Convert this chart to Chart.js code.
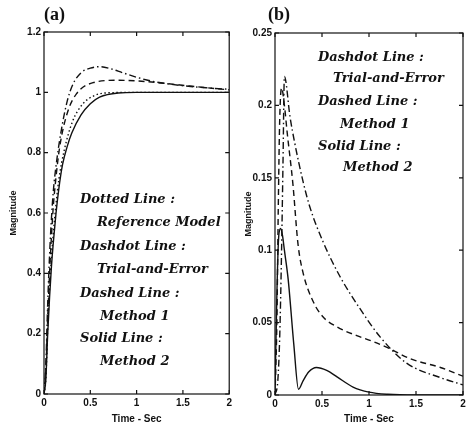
<!DOCTYPE html>
<html>
<head>
<meta charset="utf-8">
<script src="https://cdn.jsdelivr.net/npm/chart.js@4.4.1/dist/chart.umd.min.js"></script>
<style>
  body { margin: 0; background: #fff; }
  canvas { position: absolute; top: 0; }
  #chartA { left: 0; }
  #chartB { left: 235px; }
</style>
</head>
<body>
<canvas id="chartA" width="235" height="425"></canvas>
<canvas id="chartB" width="235" height="425"></canvas>
<script>
// ---- panel (a): step responses ----
const xTicks = [0, 0.5, 1, 1.5, 2];

const aRefT   = [0, 0.02, 0.04, 0.06, 0.08, 0.1, 0.13, 0.16, 0.22, 0.31, 0.42, 0.55, 0.67, 1, 1.5, 2];
const aRefV   = [0, 0.05, 0.22, 0.35, 0.45, 0.53, 0.63, 0.71, 0.81, 0.905, 0.962, 0.99, 0.998, 1, 1, 1];

const aTrialT = [0, 0.02, 0.04, 0.06, 0.08, 0.1, 0.14, 0.19, 0.25, 0.31, 0.4, 0.5, 0.6, 0.7, 0.85, 1, 1.2, 1.5, 1.75, 2];
const aTrialV = [0, 0.1, 0.3, 0.46, 0.58, 0.67, 0.78, 0.88, 0.97, 1.025, 1.065, 1.08, 1.085, 1.08, 1.065, 1.05, 1.035, 1.022, 1.015, 1.01];

const aM1T    = [0, 0.02, 0.04, 0.06, 0.08, 0.1, 0.13, 0.17, 0.25, 0.35, 0.53, 0.8, 1, 1.3, 1.6, 2];
const aM1V    = [0, 0.08, 0.25, 0.4, 0.52, 0.62, 0.72, 0.82, 0.93, 0.995, 1.032, 1.04, 1.038, 1.03, 1.02, 1.008];

const aM2T    = [0, 0.02, 0.04, 0.06, 0.08, 0.1, 0.13, 0.16, 0.2, 0.25, 0.3, 0.4, 0.5, 0.6, 0.8, 1, 2];
const aM2V    = [0, 0.05, 0.2, 0.32, 0.42, 0.5, 0.6, 0.68, 0.76, 0.82, 0.865, 0.925, 0.962, 0.984, 0.998, 1, 1];

// ---- panel (b) ----
const bTrialT = [0, 0.03, 0.05, 0.07, 0.085, 0.1, 0.16, 0.21, 0.3, 0.37, 0.51, 0.69, 0.9, 1.12, 1.4, 1.76, 2];
const bTrialV = [0, 0.01, 0.04, 0.1, 0.16, 0.22, 0.192, 0.174, 0.147, 0.13, 0.106, 0.082, 0.06, 0.04, 0.022, 0.012, 0.007];

const bM1T    = [0, 0.02, 0.035, 0.05, 0.07, 0.1, 0.13, 0.19, 0.245, 0.3, 0.41, 0.51, 0.66, 0.87, 1.04, 1.22, 1.44, 1.76, 2];
const bM1V    = [0, 0.05, 0.13, 0.19, 0.212, 0.2, 0.181, 0.146, 0.104, 0.084, 0.064, 0.054, 0.047, 0.041, 0.037, 0.032, 0.025, 0.019, 0.013];

const bM2T    = [0, 0.02, 0.04, 0.06, 0.08, 0.1, 0.14, 0.2, 0.25, 0.3, 0.36, 0.44, 0.55, 0.66, 0.83, 1, 1.2, 1.5, 2];
const bM2V    = [0, 0.07, 0.11, 0.115, 0.11, 0.1, 0.08, 0.035, 0.004, 0.01, 0.016, 0.019, 0.017, 0.0125, 0.0055, 0.002, 0.0005, 0, 0];

const pts = (t, v) => t.map((x, i) => ({ x: x, y: v[i] }));

const lineStyle = (dash) => ({
    borderColor: '#111',
    borderWidth: 1.4,
    borderDash: dash,
    pointRadius: 0,
    fill: false,
    cubicInterpolationMode: 'monotone'
});
const DOTTED = [1.5, 2.5];
const DASHDOT = [7, 3, 1.5, 3];
const DASHED = [6, 4];

// frame, inward ticks, panel label and in-plot notes
const matlabAxes = {
    id: 'matlabAxes',
    afterDraw(chart, args, opts) {
        const ctx = chart.ctx;
        const a = chart.chartArea;
        const xs = chart.scales.x, ys = chart.scales.y;
        ctx.save();
        ctx.strokeStyle = '#111';
        ctx.lineWidth = 1.2;
        ctx.strokeRect(a.left, a.top, a.right - a.left, a.bottom - a.top);
        ctx.beginPath();
        xs.ticks.forEach(t => {
            const px = xs.getPixelForValue(t.value);
            ctx.moveTo(px, a.bottom); ctx.lineTo(px, a.bottom - 4);
            ctx.moveTo(px, a.top); ctx.lineTo(px, a.top + 4);
        });
        ys.ticks.forEach(t => {
            const py = ys.getPixelForValue(t.value);
            ctx.moveTo(a.left, py); ctx.lineTo(a.left + 4, py);
            ctx.moveTo(a.right, py); ctx.lineTo(a.right - 4, py);
        });
        ctx.stroke();

        ctx.fillStyle = '#111';
        ctx.textBaseline = 'middle';
        ctx.font = 'bold 18px "Liberation Serif"';
        ctx.fillText(opts.label, opts.labelX, 15);

        ctx.font = 'italic bold 13px "DejaVu Serif"';
        opts.notes.forEach(n => ctx.fillText(n[0], n[1], n[2]));
        ctx.restore();
    }
};

const tickFont = { family: 'Liberation Sans', size: 10, weight: 'bold' };

function makeOptions(yMax, yStep, pad, yWidth, xHeight, label, labelX, notes) {
    return {
        responsive: false,
        animation: false,
        layout: { padding: pad },
        plugins: {
            legend: { display: false },
            tooltip: { enabled: false },
            matlabAxes: { label: label, labelX: labelX, notes: notes }
        },
        scales: {
            x: {
                type: 'linear',
                min: 0, max: 2,
                grid: { display: false, drawTicks: false },
                border: { display: false },
                afterBuildTicks: s => { s.ticks = xTicks.map(v => ({ value: v })); },
                afterFit: s => { s.height = xHeight; },
                ticks: { color: '#111', font: tickFont, padding: 3, maxRotation: 0,
                         callback: v => String(v) },
                title: { display: true, text: 'Time - Sec', color: '#111',
                         font: { family: 'Liberation Sans', size: 10, weight: 'bold' },
                         padding: { top: 0, bottom: 0 } }
            },
            y: {
                min: 0, max: yMax,
                grid: { display: false, drawTicks: false },
                border: { display: false },
                afterFit: s => { s.width = yWidth; },
                ticks: { color: '#111', font: tickFont, padding: 3, stepSize: yStep,
                         callback: v => String(Number(v.toFixed(2))) },
                title: { display: true, text: 'Magnitude', color: '#111',
                         font: { family: 'Liberation Sans', size: 9, weight: 'bold' },
                         padding: { top: 4, bottom: 0 } }
            }
        }
    };
}

new Chart(document.querySelector('#chartA').getContext('2d'), {
    type: 'line',
    data: {
        datasets: [
            { label: 'Reference Model', data: pts(aRefT, aRefV), ...lineStyle(DOTTED) },
            { label: 'Trial-and-Error', data: pts(aTrialT, aTrialV), ...lineStyle(DASHDOT) },
            { label: 'Method 1', data: pts(aM1T, aM1V), ...lineStyle(DASHED) },
            { label: 'Method 2', data: pts(aM2T, aM2V), ...lineStyle([]) }
        ]
    },
    options: makeOptions(1.2, 0.2, { left: 4, right: 5, top: 32, bottom: 0 }, 40, 31, '(a)', 44, [
        ['Dotted Line :', 80, 200],
        ['Reference Model', 97, 223],
        ['Dashdot Line :', 80, 247],
        ['Trial-and-Error', 97, 270],
        ['Dashed Line :', 80, 294],
        ['Method 1', 100, 317],
        ['Solid Line :', 80, 339],
        ['Method 2', 100, 362]
    ]),
    plugins: [matlabAxes]
});

new Chart(document.querySelector('#chartB').getContext('2d'), {
    type: 'line',
    data: {
        datasets: [
            { label: 'Trial-and-Error', data: pts(bTrialT, bTrialV), ...lineStyle(DASHDOT) },
            { label: 'Method 1', data: pts(bM1T, bM1V), ...lineStyle(DASHED) },
            { label: 'Method 2', data: pts(bM2T, bM2V), ...lineStyle([]) }
        ]
    },
    options: makeOptions(0.25, 0.05, { left: 4, right: 7, top: 33, bottom: 0 }, 36, 30, '(b)', 33, [
        ['Dashdot Line :', 83, 58],
        ['Trial-and-Error', 98, 79],
        ['Dashed Line :', 83, 102],
        ['Method 1', 105, 125],
        ['Solid Line :', 83, 147],
        ['Method 2', 108, 168]
    ]),
    plugins: [matlabAxes]
});
</script>
</body>
</html>
